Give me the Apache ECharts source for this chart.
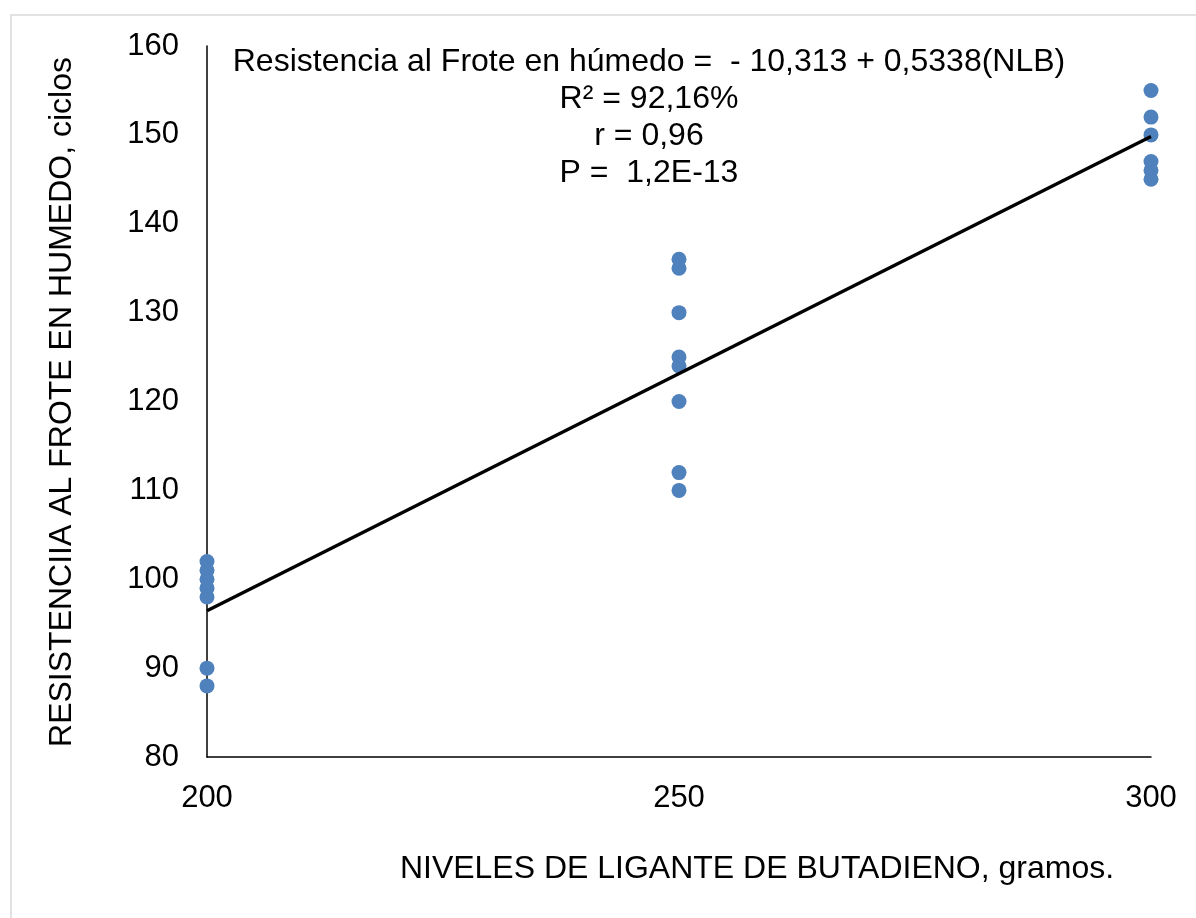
<!DOCTYPE html>
<html>
<head>
<meta charset="utf-8">
<title>Resistencia al frote en húmedo</title>
<script src="https://cdn.jsdelivr.net/npm/echarts@6/dist/echarts.min.js"></script>
<style>
  html, body { margin: 0; padding: 0; background: #ffffff; }
  #chart { width: 1196px; height: 918px; }
</style>
</head>
<body>
<div id="chart"></div>
<script>
// Observed wet-rub resistance (cycles) at each butadiene binder level (grams)
const level200 = [102, 101, 100, 99, 98, 90, 88];
const level250 = [136, 135, 130, 125, 124, 120, 112, 110];
const level300 = [155, 152, 150, 147, 146, 145];
const levels = [200, 250, 300];

// Fitted regression: y = intercept + slope * NLB
const intercept = -10.313;
const slope = 0.5338;

const yTicks = { min: 80, max: 160, interval: 10 };
const xTicks = { min: 200, max: 300, interval: 50 };

const equationLines = [
  'Resistencia al Frote en húmedo =  - 10,313 + 0,5338(NLB)',
  'R² = 92,16%',
  'r = 0,96',
  'P =  1,2E-13'
];
const xTitle = 'NIVELES DE LIGANTE DE BUTADIENO, gramos.';
const yTitle = 'RESISTENCIIA AL FROTE EN HUMEDO, ciclos';

const FONT = '"Liberation Sans", Arial, Helvetica, sans-serif';

const groups = [level200, level250, level300];
const points = [];
groups.forEach((vals, i) => vals.forEach(v => points.push([levels[i], v])));

const fitLine = [levels[0], levels[levels.length - 1]].map(x => [x, intercept + slope * x]);

const chart = echarts.init(document.getElementById('chart'), null, { renderer: 'canvas' });
chart.setOption({
  backgroundColor: '#ffffff',
  animation: false,
  grid: { left: 207, right: 45, top: 46, bottom: 161, containLabel: false },
  xAxis: {
    type: 'value',
    min: xTicks.min, max: xTicks.max, interval: xTicks.interval,
    axisLine: { show: true, lineStyle: { color: '#000', width: 1.5 } },
    axisTick: { show: false },
    splitLine: { show: false },
    axisLabel: { color: '#000', fontSize: 31, fontFamily: FONT, margin: 26 }
  },
  yAxis: {
    type: 'value',
    min: yTicks.min, max: yTicks.max, interval: yTicks.interval,
    axisLine: { show: true, onZero: false, lineStyle: { color: '#000', width: 1.5 } },
    axisTick: { show: false },
    splitLine: { show: false },
    axisLabel: { color: '#000', fontSize: 31, fontFamily: FONT, margin: 28 }
  },
  series: [
    {
      type: 'scatter',
      data: points,
      symbol: 'circle',
      symbolSize: 15,
      itemStyle: { color: '#4f81bd', opacity: 1 },
      z: 2
    },
    {
      type: 'line',
      data: fitLine,
      symbol: 'none',
      lineStyle: { color: '#000', width: 3.4 },
      z: 3
    }
  ],
  graphic: [
    {
      type: 'rect',
      shape: { x: 11, y: 15, width: 1300, height: 1000 },
      style: { fill: 'none', stroke: '#d9d9d9', lineWidth: 1.5 },
      silent: true
    },
    {
      type: 'text',
      x: 649, y: 44,
      style: {
        text: equationLines.join('\n'),
        fill: '#000',
        font: '32px ' + FONT,
        textAlign: 'center',
        textVerticalAlign: 'top',
        lineHeight: 37
      }
    },
    {
      type: 'text',
      x: 757, y: 869,
      style: {
        text: xTitle,
        fill: '#000',
        font: '32px ' + FONT,
        textAlign: 'center',
        textVerticalAlign: 'middle'
      }
    },
    {
      type: 'text',
      x: 62, y: 402,
      rotation: Math.PI / 2,
      style: {
        text: yTitle,
        fill: '#000',
        font: '32px ' + FONT,
        textAlign: 'center',
        textVerticalAlign: 'middle'
      }
    }
  ]
});
</script>
</body>
</html>
